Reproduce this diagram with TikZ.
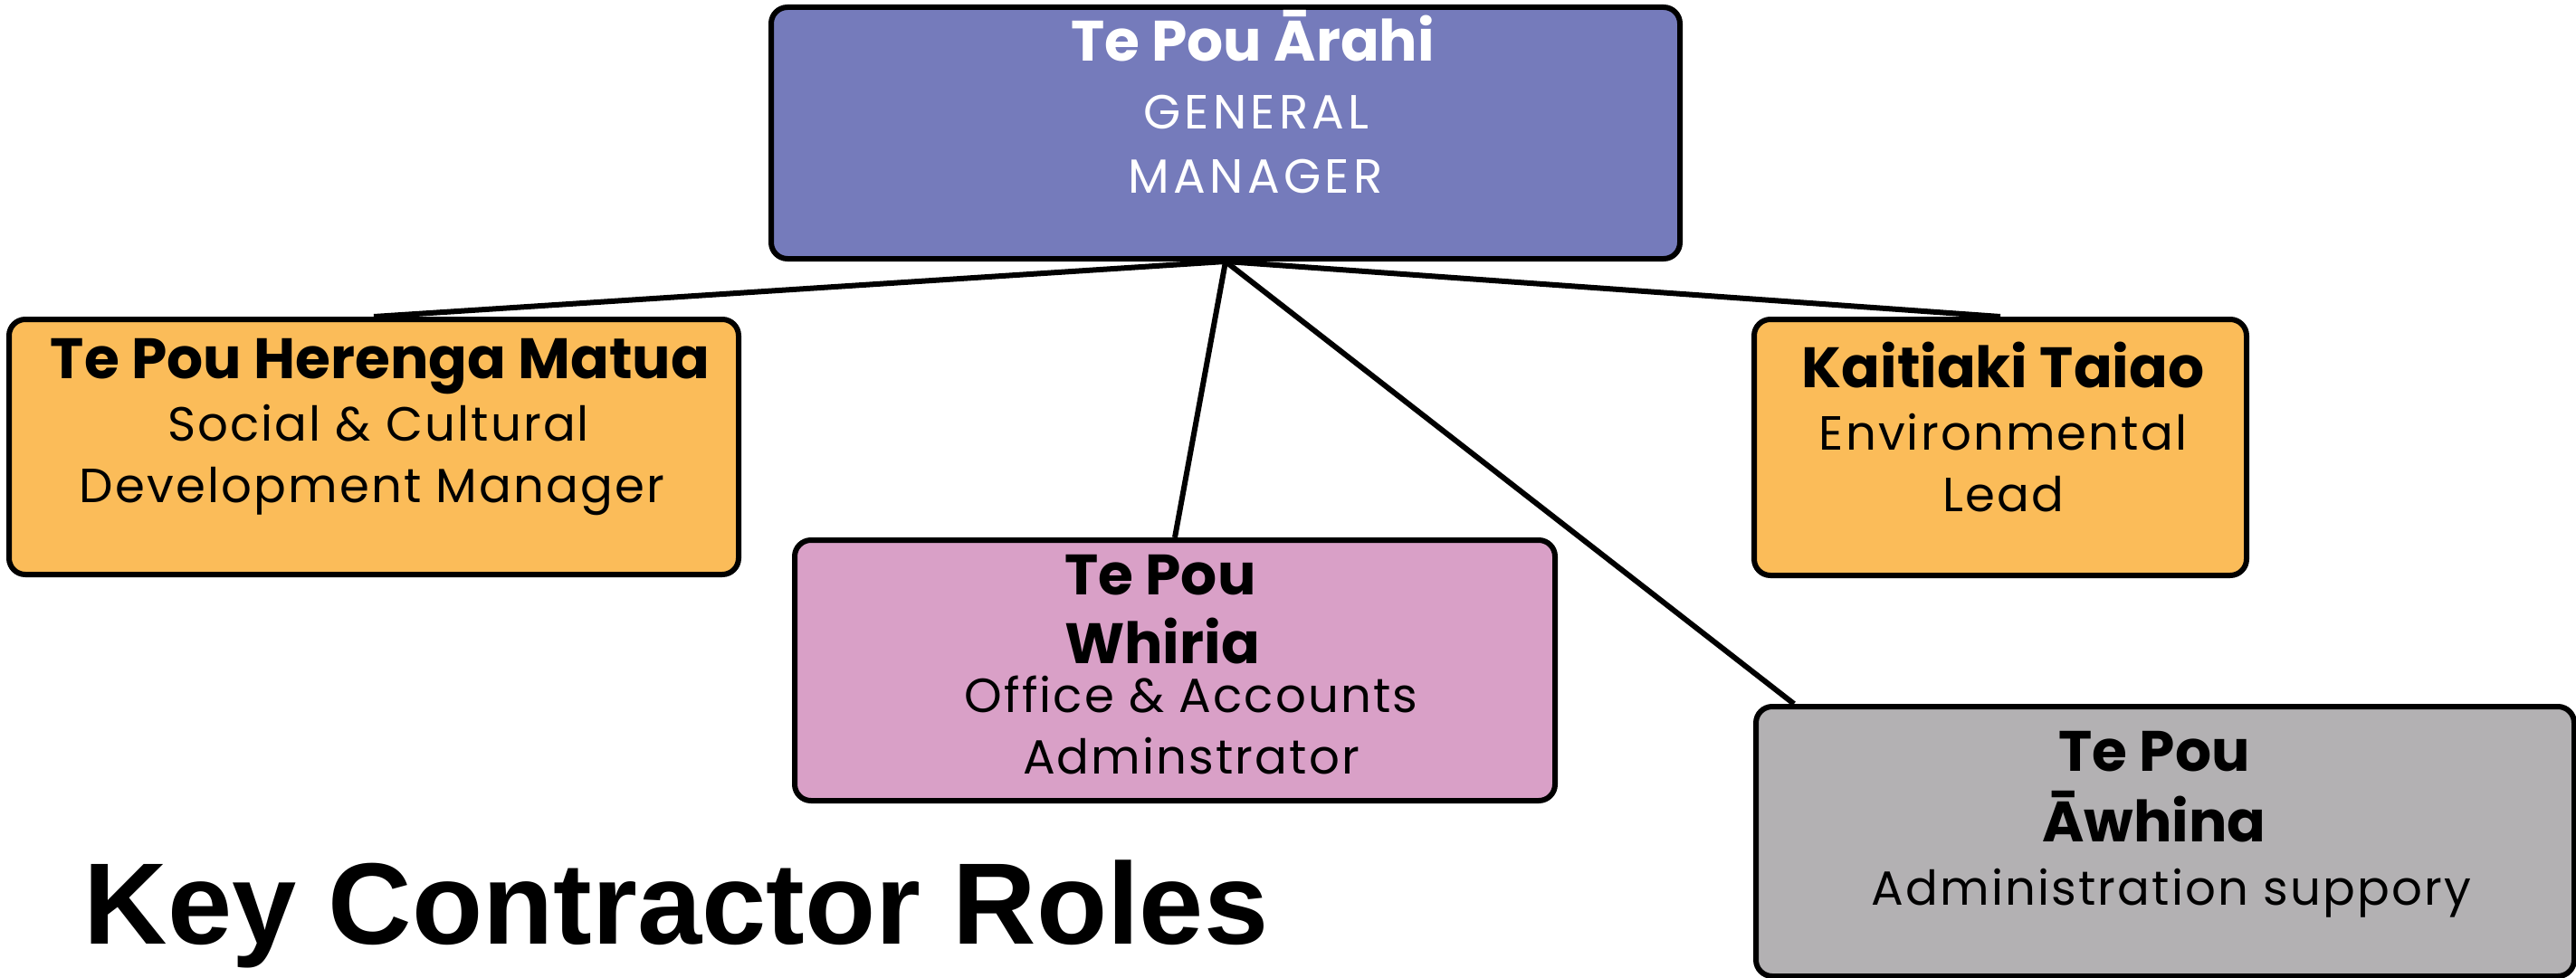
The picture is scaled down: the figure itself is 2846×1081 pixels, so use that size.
\documentclass[tikz,border=0pt]{standalone}
\usepackage{fontspec}
\setmainfont{Poppins}
\newfontfamily\bodyfont{Poppins}[LetterSpace=4]
\newfontfamily\capsfont{Poppins}[LetterSpace=8]
\newfontfamily\keyfont{Liberation Sans}
\definecolor{gmblue}{RGB}{117,123,187}
\definecolor{orangebox}{RGB}{251,188,89}
\definecolor{pinkbox}{RGB}{217,160,199}
\definecolor{graybox}{RGB}{179,177,179}
\begin{document}
\begin{tikzpicture}[x=1pt,y=-1pt,
  box/.style={draw=black,line width=6pt,rounded corners=18pt,inner sep=0pt,anchor=north west},
  ttl/.style={anchor=base,inner sep=0pt,font=\fontsize{63}{66}\selectfont\bfseries},
  body/.style={anchor=base,inner sep=0pt,font=\fontsize{53}{56}\selectfont\bodyfont},
  capsbody/.style={anchor=base,inner sep=0pt,font=\fontsize{53}{56}\selectfont\capsfont},
  link/.style={line width=6pt}]
\useasboundingbox[fill=white] (0,0) rectangle (2846,1081);
% boxes
\node[box,fill=gmblue,minimum width=1004pt,minimum height=278pt] (gm) at (849,5) {};
\node[box,fill=orangebox,minimum width=806pt,minimum height=282pt] (hm) at (7,350) {};
\node[box,fill=pinkbox,minimum width=840pt,minimum height=288pt] (wh) at (875,594) {};
\node[box,fill=orangebox,minimum width=544pt,minimum height=283pt] (kt) at (1935,350) {};
\node[box,fill=graybox,minimum width=904pt,minimum height=298pt] (aw) at (1937,778) {};
\coordinate (awtop) at (1982,778);
% connectors
\draw[link] (gm.south) -- (hm.north);
\draw[link] (gm.south) -- (kt.north);
\draw[link] (gm.south) -- (wh.north);
\draw[link] (gm.south) -- (awtop);
% texts
\node[ttl,text=white,font=\fontsize{63}{66}\selectfont\bfseries] (gm1) at (1384,68) {Te Pou Ārahi};
\node[capsbody,text=white] (gm2) at (1388,142) {GENERAL};
\node[capsbody,text=white] (gm3) at (1387,213) {MANAGER};
\node[ttl] (hm1) at (420,418) {Te Pou Herenga Matua};
\node[body] (hm2) at (418,487) {Social \& Cultural};
\node[body] (hm3) at (411,555) {Development Manager};
\node[ttl,anchor=base west] (wh1) at (1176,657) {Te Pou};
\node[ttl,anchor=base west] (wh2) at (1176,733) {Whiria};
\node[body] (wh3) at (1316,787) {Office \& Accounts};
\node[body] (wh4) at (1316,855) {Adminstrator};
\node[ttl] (kt1) at (2213,428) {Kaitiaki Taiao};
\node[body] (kt2) at (2213,497) {Environmental};
\node[body] (kt3) at (2213,565) {Lead};
\node[ttl] (aw1) at (2380,852) {Te Pou};
\node[ttl] (aw2) at (2380,930) {Āwhina};
\node[body] (aw3) at (2399,1000) {Administration suppory};
\node[anchor=base,inner sep=0pt,font=\fontsize{128}{130}\selectfont\keyfont\bfseries] (key) at (747,1043) {Key Contractor Roles};
\end{tikzpicture}
\end{document}
